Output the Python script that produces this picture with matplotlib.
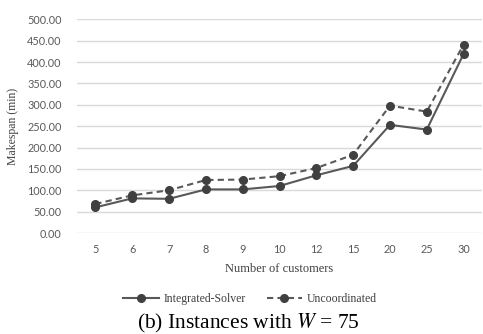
import matplotlib
matplotlib.use("Agg")
import matplotlib.pyplot as plt
import numpy as np

categories = ["5", "6", "7", "8", "9", "10", "12", "15", "20", "25", "30"]
integrated = [60, 81, 80, 102, 102, 110, 135, 157, 253, 242, 419]
uncoordinated = [68, 88, 100, 124, 125, 133, 152, 183, 298, 284, 441]
yticks = [0, 50, 100, 150, 200, 250, 300, 350, 400, 450, 500]

plt.rcParams['mathtext.fontset'] = 'stix'

fig = plt.figure(figsize=(4.83, 3.34), dpi=100)
ax = fig.add_axes([77/483, 1-233/334, 405/483, (233-19.3)/334])

x = np.arange(len(categories))
line_c = "#595959"
mk_c = "#404040"
ax.plot(x, integrated, color=line_c, lw=1.5, marker="o", markersize=5.5,
        markerfacecolor=mk_c, markeredgecolor=mk_c, label="Integrated-Solver", zorder=3)
ax.plot(x, uncoordinated, color=line_c, lw=1.5, ls=(0, (3, 2)), marker="o", markersize=5.5,
        markerfacecolor=mk_c, markeredgecolor=mk_c, label="Uncoordinated", zorder=3)

ax.set_xlim(-0.5, len(categories) - 0.5)
ax.set_ylim(0, 500)
ax.set_xticks(x)
ax.set_xticklabels(categories)
ax.set_yticks(yticks)
ax.set_yticklabels([f"{v:.2f}" for v in yticks])
for s in ax.spines.values():
    s.set_visible(False)
ax.grid(axis="y", color="#d9d9d9", lw=1.0)
ax.set_axisbelow(True)
ax.tick_params(axis="both", length=0, labelcolor="#595959", labelsize=7.8)
ax.tick_params(axis="y", pad=11)
ax.tick_params(axis="x", pad=8)
for lbl in ax.get_xticklabels() + ax.get_yticklabels():
    lbl.set_fontfamily("Lato")

ax.set_ylabel("Makespan (min)", family="Liberation Serif", fontsize=8.5, color="#404040", labelpad=6)
ax.set_xlabel("Number of customers", family="Liberation Serif", fontsize=9, color="#404040", labelpad=6)

leg = fig.legend(loc="center", bbox_to_anchor=(250/483, 1-299/334), ncol=2, frameon=False,
                 prop={"family": "Liberation Serif", "size": 8.5}, handlelength=3.0,
                 columnspacing=1.8, handletextpad=0.4, labelcolor="#404040")

fig.text(248/483, 1-323/334, r"(b) Instances with $W$ = 75", family="Liberation Serif",
         fontsize=15.5, ha="center", va="center", color="black")

fig.savefig("out.png", dpi=100)
